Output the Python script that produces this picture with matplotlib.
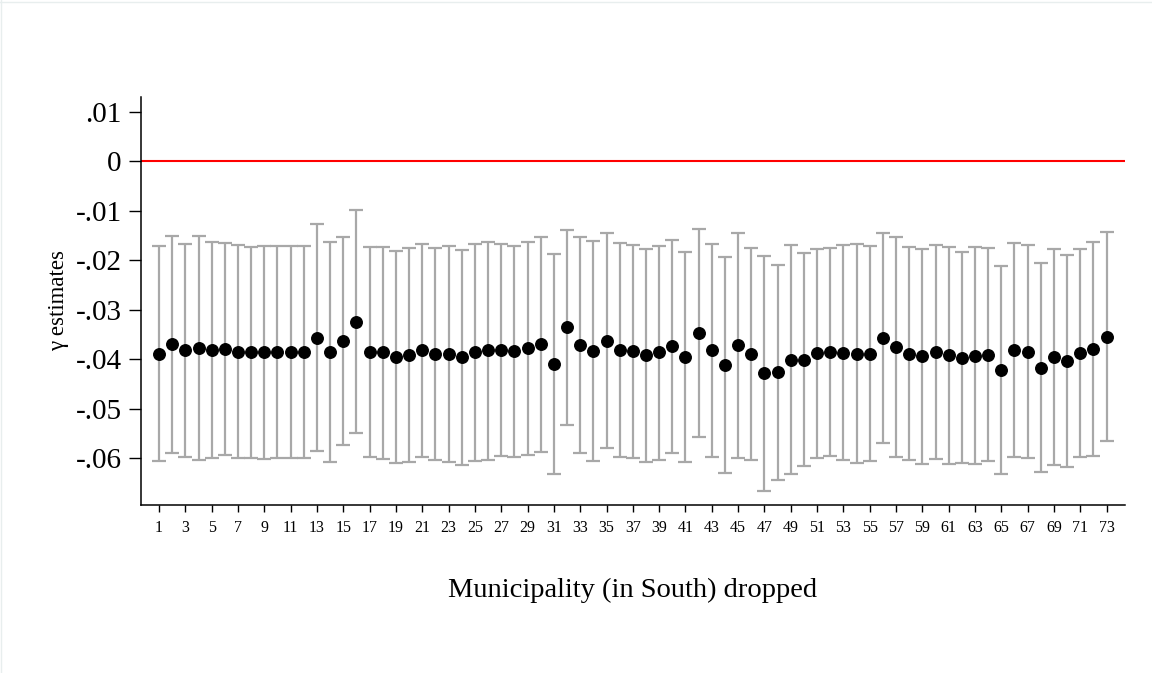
import matplotlib
matplotlib.use('Agg')
import matplotlib.pyplot as plt
from matplotlib.lines import Line2D
import numpy as np

municipality = list(range(1, 74))

gamma = [-0.0389, -0.0370, -0.0382, -0.0378, -0.0382, -0.0380, -0.0385, -0.0386, -0.0386, -0.0386,
         -0.0385, -0.0386, -0.0356, -0.0386, -0.0364, -0.0324, -0.0386, -0.0386, -0.0395, -0.0391,
         -0.0382, -0.0389, -0.0389, -0.0396, -0.0386, -0.0382, -0.0382, -0.0384, -0.0378, -0.0370,
         -0.0409, -0.0335, -0.0371, -0.0384, -0.0362, -0.0382, -0.0384, -0.0392, -0.0386, -0.0374,
         -0.0396, -0.0346, -0.0382, -0.0412, -0.0372, -0.0389, -0.0428, -0.0425, -0.0401, -0.0401,
         -0.0387, -0.0386, -0.0387, -0.0389, -0.0389, -0.0357, -0.0376, -0.0389, -0.0394, -0.0385,
         -0.0392, -0.0397, -0.0393, -0.0391, -0.0421, -0.0382, -0.0385, -0.0417, -0.0395, -0.0404,
         -0.0388, -0.0380, -0.0354]

ci_upper = [-0.0172, -0.0152, -0.0167, -0.0151, -0.0164, -0.0165, -0.0170, -0.0173, -0.0171, -0.0171,
            -0.0171, -0.0171, -0.0127, -0.0163, -0.0153, -0.0098, -0.0174, -0.0173, -0.0181, -0.0175,
            -0.0167, -0.0175, -0.0172, -0.0179, -0.0168, -0.0163, -0.0167, -0.0171, -0.0163, -0.0154,
            -0.0187, -0.0139, -0.0154, -0.0161, -0.0145, -0.0165, -0.0169, -0.0177, -0.0171, -0.0159,
            -0.0184, -0.0136, -0.0167, -0.0193, -0.0145, -0.0175, -0.0191, -0.0209, -0.0169, -0.0186,
            -0.0177, -0.0175, -0.0170, -0.0168, -0.0171, -0.0145, -0.0153, -0.0174, -0.0177, -0.0169,
            -0.0173, -0.0183, -0.0174, -0.0175, -0.0212, -0.0166, -0.0170, -0.0205, -0.0178, -0.0190,
            -0.0178, -0.0163, -0.0144]

ci_lower = [-0.0606, -0.0589, -0.0597, -0.0604, -0.0600, -0.0594, -0.0599, -0.0600, -0.0602, -0.0600,
            -0.0599, -0.0600, -0.0585, -0.0608, -0.0573, -0.0548, -0.0597, -0.0601, -0.0609, -0.0608,
            -0.0597, -0.0604, -0.0608, -0.0614, -0.0606, -0.0603, -0.0596, -0.0598, -0.0594, -0.0588,
            -0.0632, -0.0532, -0.0589, -0.0606, -0.0579, -0.0597, -0.0600, -0.0608, -0.0603, -0.0589,
            -0.0608, -0.0557, -0.0598, -0.0630, -0.0600, -0.0603, -0.0666, -0.0643, -0.0632, -0.0615,
            -0.0599, -0.0596, -0.0604, -0.0610, -0.0606, -0.0569, -0.0598, -0.0603, -0.0612, -0.0601,
            -0.0611, -0.0610, -0.0612, -0.0606, -0.0632, -0.0598, -0.0600, -0.0628, -0.0613, -0.0618,
            -0.0597, -0.0596, -0.0564]

x_ticks = list(range(1, 74, 2))
y_ticks = [0.01, 0.0, -0.01, -0.02, -0.03, -0.04, -0.05, -0.06]
y_tick_labels = ['.01', '0', '-.01', '-.02', '-.03', '-.04', '-.05', '-.06']

plt.rcParams['font.family'] = ['Liberation Serif', 'DejaVu Serif']

fig = plt.figure(figsize=(11.52, 6.73), dpi=100)
ax = fig.add_axes([0.1224, 0.2496, 0.9766 - 0.1224, 0.8563 - 0.2496])

x = np.array(municipality)
g = np.array(gamma)
up = np.array(ci_upper)
lo = np.array(ci_lower)

ax.axhline(0, color='#ff0000', lw=1.5, zorder=1)
ax.errorbar(x, g, yerr=[g - lo, up - g], fmt='none', ecolor='#a8a8a8',
            elinewidth=1.6, capsize=5, capthick=1.6, zorder=2)
ax.plot(x, g, 'o', color='black', markersize=8.3, zorder=3)

ax.set_xlim(-0.37, 74.4)
ax.set_ylim(-0.0694, 0.0130)

ax.set_xticks(x_ticks)
ax.set_xticklabels([str(t) for t in x_ticks], fontsize=11.5)
ax.set_yticks(y_ticks)
ax.set_yticklabels(y_tick_labels, fontsize=21)

ax.tick_params(axis='y', length=9, width=1, pad=5)
ax.tick_params(axis='x', length=5, width=1, pad=6)

for s in ['top', 'right']:
    ax.spines[s].set_visible(False)
for s in ['left', 'bottom']:
    ax.spines[s].set_linewidth(1.1)

ax.set_xlabel('Municipality (in South) dropped', fontsize=20.5, labelpad=30)
ax.set_ylabel('γ estimates', fontsize=16.5)
ax.yaxis.set_label_coords(-0.073, 0.5)

# faint frame lines at top and left edge of the figure
fig.add_artist(Line2D([0, 1], [0.997, 0.997], transform=fig.transFigure, color='#e8eeee', lw=1))
fig.add_artist(Line2D([0.001, 0.001], [0, 1], transform=fig.transFigure, color='#e8eeee', lw=1))

fig.savefig('out.png', dpi=100, facecolor='white')
